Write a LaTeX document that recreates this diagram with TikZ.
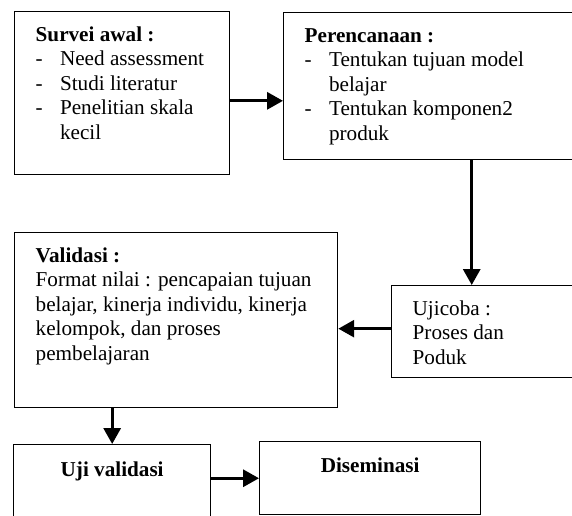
\documentclass[tikz,border=0pt]{standalone}
\usepackage{fontspec}
\setmainfont{Liberation Serif}
\usetikzlibrary{arrows.meta,calc,positioning}

\newcommand{\boxtxt}[3]{\parbox[c][#1][t]{#2}{\vspace*{7.3pt}\raggedright\strut#3}}
\newcommand{\ditem}[1]{\makebox[13.8pt][l]{-}#1}
\newcommand{\dcont}[1]{\hspace*{13.8pt}#1}

\begin{document}
\begin{tikzpicture}[x=0.5667pt,y=-0.5667pt,
  font=\fontsize{12}{13.8}\selectfont,
  box/.style={draw,line width=.8pt,anchor=north west,inner xsep=11.9pt,inner ysep=0pt},
  flow/.style={-{Triangle[length=9pt,width=9.6pt]},line width=1.7pt}]
\clip (0,0) rectangle (572,515);
% top row
\node[box] (survei) at (14,11)
 {\boxtxt{92.4pt}{98pt}{\textbf{Survei awal :}\\
  \ditem{Need assessment}\\
  \ditem{Studi literatur}\\
  \ditem{Penelitian skala}\\
  \dcont{kecil}}};
\node[box] (rencana) at (283,12)
 {\boxtxt{83.3pt}{144.5pt}{\textbf{Perencanaan :}\\
  \ditem{Tentukan tujuan model}\\
  \dcont{belajar}\\
  \ditem{Tentukan komponen2}\\
  \dcont{produk}}};
% middle row
\node[box] (ujicoba) at (391,285)
 {\boxtxt{52.1pt}{83.3pt}{Ujicoba :\\Proses dan\\Poduk}};
\node[box] (validasi) at (14,232)
 {\boxtxt{99.2pt}{159.2pt}{\textbf{Validasi :}\\
  Format nilai : pencapaian tujuan\\
  belajar, kinerja individu, kinerja\\
  kelompok, dan proses\\
  pembelajaran}};
% bottom row
\node[box,inner xsep=0pt] (uji) at (13,444)
 {\parbox[c][45.9pt][t]{111.6pt}{\vspace*{8.4pt}\centering\strut\textbf{Uji validasi}}};
\node[box,inner xsep=0pt] (disem) at (259,441)
 {\parbox[c][41.4pt][t]{125.2pt}{\vspace*{7.9pt}\centering\strut\textbf{Diseminasi}}};
% connectors
\coordinate (s1) at ([yshift=-4.3pt]survei.east);
\draw[flow] (s1) -- (s1 -| rencana.west);
\coordinate (u1) at ([xshift=-8.2pt]ujicoba.north);
\draw[flow] (u1 |- rencana.south) -- (u1);
\coordinate (u2) at ([yshift=1.7pt]ujicoba.west);
\draw[flow] (u2) -- (u2 -| validasi.east);
\draw[flow] (uji.north |- validasi.south) -- (uji.north);
\draw[flow] (disem.west -| uji.east) -- (disem.west);
\end{tikzpicture}
\end{document}
